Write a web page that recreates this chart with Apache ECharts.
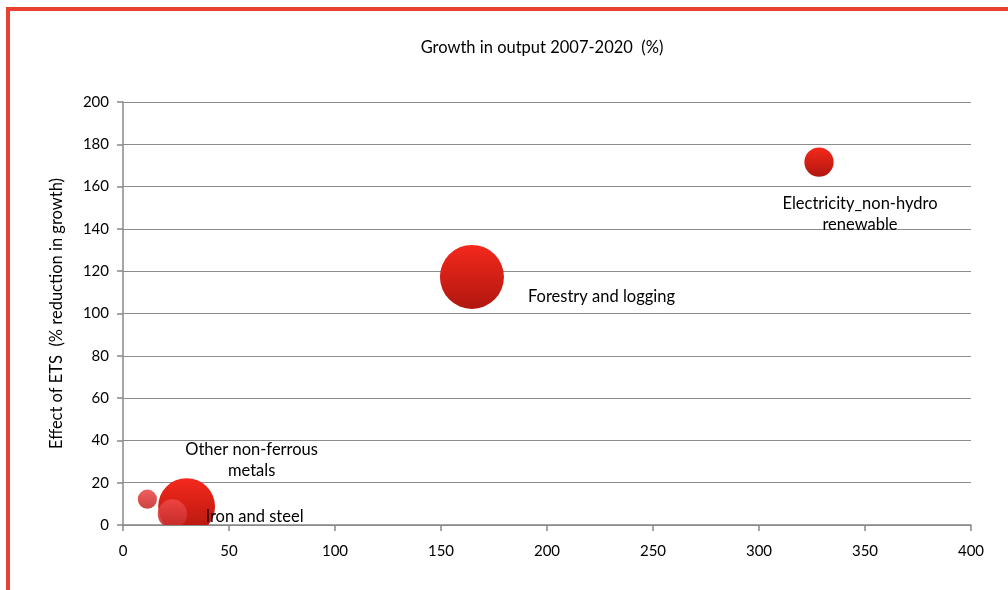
<!DOCTYPE html>
<html>
<head>
<meta charset="utf-8">
<script src="https://cdn.jsdelivr.net/npm/echarts@6/dist/echarts.min.js"></script>
<style>html,body{margin:0;padding:0;background:#fff}#c{width:1008px;height:590px}</style>
</head>
<body>
<div id="c"></div>
<script>
// ---- data ----
const sectors = ['Other non-ferrous metals', 'Unlabelled sector', 'Iron and steel', 'Forestry and logging', 'Electricity_non-hydro renewable'];
const growthOutput = [30, 11.5, 23.3, 164.6, 328.3];      // x: Growth in output 2007-2020 (%)
const etsEffect   = [8.7, 12.2, 5.2, 117.3, 171.6];        // y: Effect of ETS (% reduction in growth)
const bubbleSize  = [79, 9, 21, 100, 21];                  // relative bubble size (area)
const labelText   = ['Other non-ferrous\nmetals', '', 'Iron and steel', 'Forestry and logging', 'Electricity_non-hydro\nrenewable'];
const xTicks = [0, 50, 100, 150, 200, 250, 300, 350, 400];
const yTicks = [0, 20, 40, 60, 80, 100, 120, 140, 160, 180, 200];

// ---- styling (not data) ----
const FONT = 'Lato, "Open Sans", sans-serif';
const maxDiameter = 64;
const lighter = [false, true, true, false, false];
const labelLayout = [
  {dx: 65, dy: -46, align: 'center'},
  null,
  {dx: 33, dy: 3, align: 'left'},
  {dx: 56, dy: 20, align: 'left'},
  {dx: 41, dy: 52, align: 'center'}
];

const seriesData = sectors.map((s, i) => ({
  name: s,
  value: [growthOutput[i], etsEffect[i], bubbleSize[i], i]
}));

function fillFor(i) {
  if (lighter[i]) {
    return new echarts.graphic.LinearGradient(0, 0, 0, 1, [
      {offset: 0, color: 'rgba(238,72,70,0.88)'},
      {offset: 1, color: 'rgba(196,44,42,0.88)'}
    ]);
  }
  return new echarts.graphic.LinearGradient(0, 0, 0, 1, [
    {offset: 0, color: '#f5281c'},
    {offset: 1, color: '#b0170f'}
  ]);
}

const chart = echarts.init(document.getElementById('c'), null, {renderer: 'canvas'});
chart.setOption({
  animation: false,
  backgroundColor: '#ffffff',
  grid: {left: 123, right: 37, top: 102, bottom: 65},
  graphic: [
    {type: 'rect', shape: {x: 6, y: 7, width: 1002, height: 4}, style: {fill: '#e8412f'}, silent: true, z: 100},
    {type: 'rect', shape: {x: 6, y: 7, width: 4, height: 583}, style: {fill: '#e8412f'}, silent: true, z: 100},
    {type: 'text', x: 542, y: 48, silent: true,
     style: {text: 'Growth in output 2007-2020  (%)', font: '16.5px ' + FONT, fill: '#000', textAlign: 'center', textVerticalAlign: 'middle'}}
  ],
  xAxis: {
    type: 'value', min: xTicks[0], max: xTicks[xTicks.length - 1], interval: xTicks[1] - xTicks[0],
    axisLine: {show: true, lineStyle: {color: '#888', width: 1.5}},
    axisTick: {show: true, length: 6, lineStyle: {color: '#888', width: 1.5}},
    axisLabel: {color: '#000', fontSize: 15, fontFamily: FONT, margin: 19},
    splitLine: {show: false}
  },
  yAxis: {
    type: 'value', min: yTicks[0], max: yTicks[yTicks.length - 1], interval: yTicks[1] - yTicks[0],
    name: 'Effect of ETS  (% reduction in growth)', nameLocation: 'middle', nameRotate: 90, nameGap: 58,
    nameTextStyle: {color: '#000', fontSize: 16.5, fontFamily: FONT},
    axisLine: {show: true, lineStyle: {color: '#888', width: 1.5}},
    axisTick: {show: true, length: 6, lineStyle: {color: '#888', width: 1.5}},
    axisLabel: {color: '#000', fontSize: 15, fontFamily: FONT, margin: 14},
    splitLine: {show: true, lineStyle: {color: '#8c8c8c', width: 1.2}}
  },
  series: [{
    type: 'custom',
    clip: true,
    data: seriesData,
    renderItem: function (params, api) {
      const i = api.value(3);
      const pt = api.coord([api.value(0), api.value(1)]);
      const r = maxDiameter * Math.sqrt(api.value(2) / 100) / 2;
      return {
        type: 'circle',
        shape: {cx: pt[0], cy: pt[1], r: r},
        style: {fill: fillFor(i)}
      };
    }
  }, {
    type: 'custom',
    clip: false,
    z: 5,
    data: seriesData,
    renderItem: function (params, api) {
      const i = api.value(3);
      const lay = labelLayout[i];
      if (!lay || !labelText[i]) return null;
      const pt = api.coord([api.value(0), api.value(1)]);
      return {
        type: 'text',
        x: pt[0] + lay.dx, y: pt[1] + lay.dy,
        style: {text: labelText[i], font: '16.5px ' + FONT, fill: '#000', textAlign: lay.align, textVerticalAlign: 'middle', lineHeight: 21}
      };
    }
  }]
});
</script>
</body>
</html>
